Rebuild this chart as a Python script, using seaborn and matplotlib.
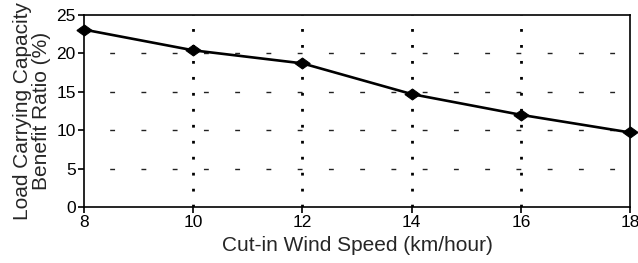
import matplotlib
matplotlib.use("Agg")
import matplotlib.pyplot as plt
import seaborn as sns
import pandas as pd

# data
wind_speed = [8, 10, 12, 14, 16, 18]
benefit_ratio = [23.1, 20.4, 18.7, 14.7, 12.0, 9.7]

df = pd.DataFrame({"speed": wind_speed, "ratio": benefit_ratio})

sns.set_style("white")
plt.rcParams["font.family"] = ["Liberation Sans", "DejaVu Sans"]

fig = plt.figure(figsize=(6.38, 2.63), dpi=100)
ax = fig.add_axes([0.1317, 0.213, 0.856, 0.730])

# flattened diamond marker like the original
diamond = [(-1, 0), (0, 0.72), (1, 0), (0, -0.72), (-1, 0)]
sns.lineplot(data=df, x="speed", y="ratio", color="black", linewidth=1.9,
             marker=diamond, markersize=11, markeredgecolor="black",
             clip_on=False, zorder=5, ax=ax)

ax.set_xlim(8, 18)
ax.set_ylim(0, 25)
ax.set_xticks([8, 10, 12, 14, 16, 18])
ax.set_yticks([0, 5, 10, 15, 20, 25])

# grid: dotted verticals, sparse dashed horizontals
for x in [10, 12, 14, 16]:
    ax.axvline(x, color="black", linestyle=(0, (1, 4.75)), linewidth=2.0, zorder=0)
for y in [5, 10, 15, 20]:
    ax.axhline(y, color="#222222", linestyle=(4, (3.5, 19)), linewidth=1.0, zorder=0)

for s in ax.spines.values():
    s.set_color("black")
    s.set_linewidth(1.2)
ax.tick_params(axis="both", direction="out", length=4, width=1.2,
               labelsize=12.5, colors="black", left=True, bottom=True, pad=2)

ax.set_xlabel("Cut-in Wind Speed (km/hour)", fontsize=15, labelpad=4)
ax.set_ylabel("Load Carrying Capacity\nBenefit Ratio (%)", fontsize=15,
              linespacing=1.0, labelpad=4)

fig.savefig("out.png", dpi=100)
